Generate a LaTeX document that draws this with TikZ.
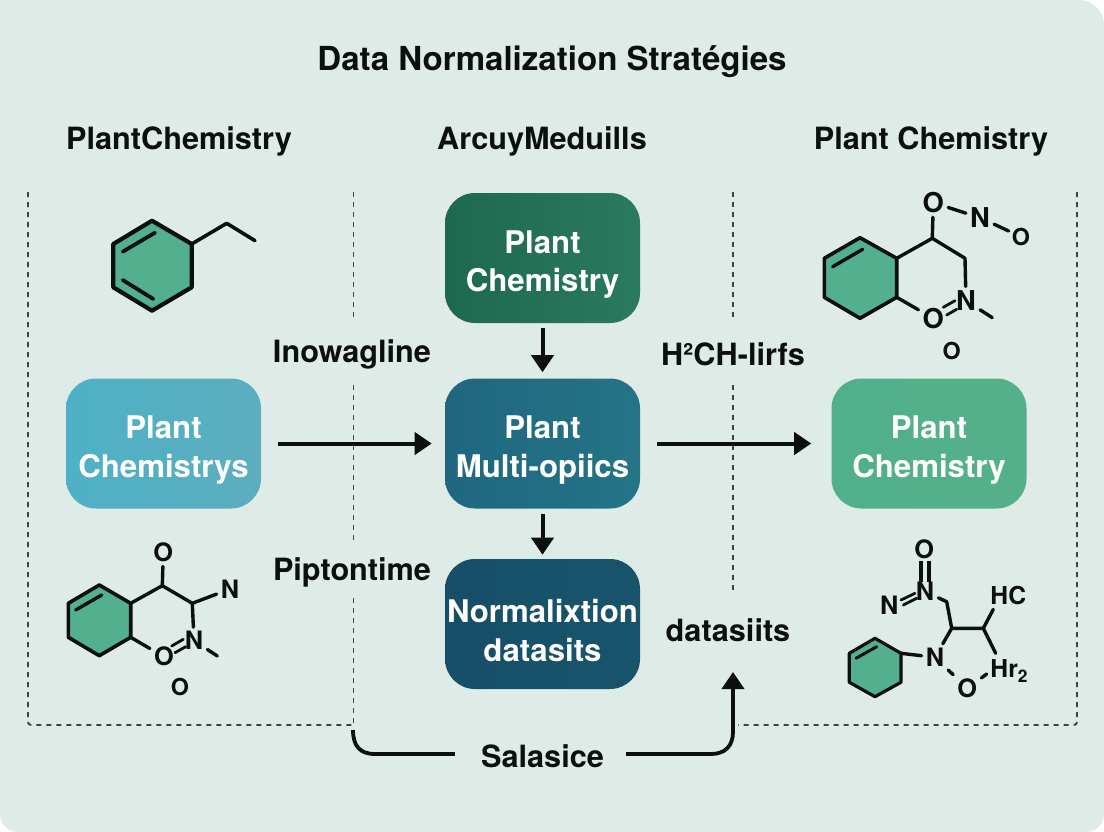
\documentclass[tikz,border=0pt]{standalone}
\usepackage{fontspec}
\setmainfont{TeX Gyre Heros}
\usetikzlibrary{arrows.meta,calc}
\def\px{0.75pt}
\newcommand{\firstln}{\rule{0pt}{27pt}}
\definecolor{bgc}{HTML}{DFEBE6}
\definecolor{hexc}{HTML}{52B08F}
\definecolor{dashc}{HTML}{3E4644}
\definecolor{ink}{HTML}{0C0F0F}
\definecolor{topA}{RGB}{30,104,80}
\definecolor{topB}{RGB}{42,122,96}
\definecolor{midA}{RGB}{31,103,128}
\definecolor{midB}{RGB}{36,116,134}
\definecolor{lowA}{RGB}{23,78,104}
\definecolor{lowB}{RGB}{24,84,108}
\definecolor{lbxA}{RGB}{78,176,198}
\definecolor{lbxB}{RGB}{92,174,190}
\definecolor{rbxA}{RGB}{80,176,140}
\definecolor{rbxB}{RGB}{84,176,138}
\tikzset{
  lab/.style={text=ink,inner sep=0pt,font=\bfseries\fontsize{23pt}{26pt}\selectfont},
  ttl/.style={text=ink,inner sep=0pt,font=\bfseries\fontsize{24.8pt}{28pt}\selectfont},
  boxn/.style={rounded corners=30*\px,minimum width=195*\px,minimum height=130*\px,inner sep=0pt,text=white,align=center,font=\bfseries\fontsize{23.4pt}{29pt}\selectfont},
  flow/.style={draw=ink,line width=4*\px,-{Triangle[width=22*\px,length=17*\px]}},
  guide/.style={draw=dashc,line width=1.9*\px,dash pattern=on 5*\px off 5*\px},
  ring/.style={draw=ink,fill=hexc,line width=3.6*\px,line join=round},
  bond/.style={draw=ink,line width=3.4*\px,line cap=round,line join=round},
  atom/.style={text=ink,inner sep=4*\px,font=\bfseries\fontsize{20.5pt}{22pt}\selectfont},
  atommd/.style={text=ink,inner sep=4*\px,font=\bfseries\fontsize{19pt}{22pt}\selectfont},
  atomsm/.style={text=ink,inner sep=3*\px,font=\bfseries\fontsize{17.5pt}{19pt}\selectfont},
}
\begin{document}
\begin{tikzpicture}[x=0.75pt,y=-0.75pt]
\useasboundingbox (0,0) rectangle (1104,832);
\fill[white] (0,0) rectangle (1104,832);
\fill[bgc] (0,0) -- (1079,0) arc[start angle=90,end angle=0,radius=25*\px] -- (1104,814) arc[start angle=0,end angle=-90,radius=18*\px] -- (18,832) arc[start angle=270,end angle=180,radius=18*\px] -- cycle;

% titles
\node[ttl] (title) at (552,62) {Data Normalization Stratégies};
\node[lab] (h1) at (179,141) {PlantChemistry};
\node[lab] (h2) at (542,141) {ArcuyMeduills};
\node[lab] (h3) at (931,141) {Plant Chemistry};

% dashed guides
\coordinate (gLt) at (28,192); \coordinate (gLb) at (28,725); \coordinate (gMb) at (353,725);
\draw[guide,rounded corners=3*\px] (gLt) -- (gLb) -- (gMb);
\coordinate (gRt) at (1077,192); \coordinate (gRb) at (1077,725); \coordinate (gBb) at (738,725);
\draw[guide,rounded corners=3*\px] (gRt) -- (gRb) -- (gBb);
\coordinate (a1) at (353.5,192); \coordinate (a2) at (353.5,318);
\coordinate (a3) at (353.5,385); \coordinate (a4) at (353.5,542);
\coordinate (a5) at (353.5,598); \coordinate (a6) at (353.5,725);
\draw[guide] (a1) -- (a2); \draw[guide] (a3) -- (a4); \draw[guide] (a5) -- (a6);
\coordinate (b1) at (733,192); \coordinate (b2) at (733,318);
\coordinate (b3) at (733,385); \coordinate (b4) at (733,593);
\draw[guide] (b1) -- (b2); \draw[guide] (b3) -- (b4);

% boxes
\node[boxn,left color=topA,right color=topB] (top) at (542.5,258) {\firstln Plant\\Chemistry};
\node[boxn,left color=midA,right color=midB] (mid) at (542.5,443.5) {\firstln Plant\\Multi-opiics};
\node[boxn,left color=lowA,right color=lowB] (low) at (542.5,624) {\firstln Normalixtion\\datasits};
\node[boxn,left color=lbxA,right color=lbxB] (lbox) at (163.5,443.5) {\firstln Plant\\Chemistrys};
\node[boxn,left color=rbxA,right color=rbxB] (rbox) at (929,443.5) {\firstln Plant\\Chemistry};

% side labels
\node[lab] (inow) at (352,354) {Inowagline};
\node[lab] (pipt) at (352,572) {Piptontime};
\node[lab] (hch) at (733,354) {H²CH-lirfs};
\node[lab] (dsi) at (728,630) {datasiits};
\node[lab] (sal) at (542.5,756) {Salasice};

% flow arrows
\draw[flow,shorten <=5*\px,shorten >=6*\px] (top) -- (mid);
\draw[flow,shorten <=5*\px,shorten >=4*\px] (mid) -- (low);
\draw[flow,shorten <=17*\px,shorten >=13*\px] (lbox) -- (mid);
\draw[flow,shorten <=17*\px,shorten >=20*\px] (mid) -- (rbox);
\coordinate (sL) at (353,730);
\coordinate (sR) at (733,672);
\draw[bond,line cap=butt,line width=3.8*\px,shorten >=26*\px] (sL) .. controls (353,746) and (360,754) .. (375,754) -- (sal.west |- 0,754);
\draw[flow,line width=3.8*\px,shorten <=22*\px] (sal.east |- 0,754) -- (711,754) .. controls (725,754) and (733,746) .. (733,732) -- (sR);

% molecule 1
\coordinate (m1a) at (152,220.7); \coordinate (m1b) at (191.7,244); \coordinate (m1c) at (191.7,287.3);
\coordinate (m1d) at (152,310.7); \coordinate (m1e) at (113.3,287.3); \coordinate (m1f) at (113.3,244);
\draw[ring,line width=4.2*\px] (m1a) -- (m1b) -- (m1c) -- (m1d) -- (m1e) -- (m1f) -- cycle;
\coordinate (m1g) at (122.7,251.7); \coordinate (m1h) at (155,232.7);
\coordinate (m1i) at (122.7,280); \coordinate (m1j) at (153.3,299);
\draw[bond,line width=3.8*\px] (m1g) -- (m1h); \draw[bond,line width=3.8*\px] (m1i) -- (m1j);
\coordinate (m1k) at (226.7,223.3); \coordinate (m1l) at (255,240.7);
\draw[bond,line width=3.6*\px] (m1b) -- (m1k) -- (m1l);

% molecule 2
\coordinate (m2a) at (860,237.7); \coordinate (m2b) at (896.7,258.3); \coordinate (m2c) at (896.7,297.3);
\coordinate (m2d) at (860,318.3); \coordinate (m2e) at (824.3,297.3); \coordinate (m2f) at (824.3,258.3);
\draw[ring] (m2a) -- (m2b) -- (m2c) -- (m2d) -- (m2e) -- (m2f) -- cycle;
\coordinate (m2g) at (832.7,266.7); \coordinate (m2h) at (862.7,249.3);
\draw[bond] (m2g) -- (m2h);
\coordinate (m2k) at (932.3,238.3); \coordinate (m2l) at (965,258.3);
\node[atom] (m2o1) at (933.3,202.7) {O};
\node[atom] (m2n1) at (980,217.7) {N};
\node[atomsm] (m2o2) at (1021,236.7) {O};
\node[atom] (m2n2) at (966,300.7) {N};
\node[atom] (m2o3) at (933.3,318.3) {O};
\node[atomsm] (m2o4) at (951.7,351) {O};
\coordinate (m2m) at (992.3,317.7);
\draw[bond] (m2b) -- (m2k) -- (m2l) -- (m2n2);
\draw[bond] (m2k) -- (m2o1);
\draw[bond] (m2o1) -- (m2n1);
\draw[bond] (m2n1) -- (m2o2);
\draw[bond] (m2n2) -- (m2m);
\draw[bond] (m2c) -- (m2o3);
\coordinate (m2p) at (943.3,307.3); \coordinate (m2q) at (955,300.7);
\coordinate (m2r) at (946.7,315); \coordinate (m2s) at (956.7,309.3);
\draw[bond,line width=2.8*\px] (m2p) -- (m2q); \draw[bond,line width=2.8*\px] (m2r) -- (m2s);

% molecule 3
\coordinate (m3a) at (99.3,585); \coordinate (m3b) at (130.7,603.3); \coordinate (m3c) at (130.7,637.3);
\coordinate (m3d) at (99.3,655.7); \coordinate (m3e) at (68.3,637.3); \coordinate (m3f) at (68.3,603.3);
\draw[ring] (m3a) -- (m3b) -- (m3c) -- (m3d) -- (m3e) -- (m3f) -- cycle;
\coordinate (m3g) at (75.7,610); \coordinate (m3h) at (101.7,595);
\draw[bond] (m3g) -- (m3h);
\coordinate (m3k) at (162.3,585.7); \coordinate (m3l) at (192.3,603.3);
\node[atommd] (m3o1) at (163.3,552.7) {O};
\node[atommd] (m3n1) at (230,589) {N};
\node[atommd] (m3n2) at (194,640.7) {N};
\node[atommd] (m3o3) at (164,656.7) {O};
\node[atomsm] (m3o4) at (180,686.7) {O};
\coordinate (m3m) at (217.3,656);
\draw[bond] (m3b) -- (m3k) -- (m3l) -- (m3n2);
\draw[bond] (m3k) -- (m3o1);
\draw[bond] (m3l) -- (m3n1);
\draw[bond] (m3n2) -- (m3m);
\draw[bond] (m3c) -- (m3o3);
\coordinate (m3p) at (171.7,646); \coordinate (m3q) at (183.3,639.3);
\coordinate (m3r) at (175,652.7); \coordinate (m3s) at (185.7,646.7);
\draw[bond,line width=2.8*\px] (m3p) -- (m3q); \draw[bond,line width=2.8*\px] (m3r) -- (m3s);

% molecule 4
\coordinate (m4a) at (875,638.3); \coordinate (m4b) at (901,653.3); \coordinate (m4c) at (901,682.3);
\coordinate (m4d) at (875,696.7); \coordinate (m4e) at (849.3,682.3); \coordinate (m4f) at (849.3,653.3);
\draw[ring,line width=3.2*\px] (m4a) -- (m4b) -- (m4c) -- (m4d) -- (m4e) -- (m4f) -- cycle;
\coordinate (m4g) at (856,658.3); \coordinate (m4h) at (876.7,646.7);
\draw[bond,line width=3*\px] (m4g) -- (m4h);
\node[atommd] (m4n) at (935,657.3) {N};
\node[atommd] (m4o) at (967.3,688.3) {O};
\node[atommd] (m4ot) at (924.3,549) {O};
\node[atommd] (m4nt) at (925,591.7) {N};
\node[atommd] (m4nl) at (889.3,605) {N};
\node[atommd,font=\bfseries\fontsize{18.5pt}{22pt}\selectfont,inner sep=0pt] (m4hc) at (1008.3,596) {HC};
\node[atommd,font=\bfseries\fontsize{18.5pt}{22pt}\selectfont,inner sep=0pt] (m4hr) at (1009,671) {Hr\raisebox{-3.75pt}{\fontsize{13pt}{14pt}\selectfont 2}};
\coordinate (m4j) at (951.7,628.3); \coordinate (m4k) at (983.3,628.3);
\coordinate (m4l) at (946.7,601.7); \coordinate (m4u) at (993.3,609.3); \coordinate (m4v) at (995.7,653.3);
\coordinate (m4w) at (986.7,674);
\draw[bond] (m4b) -- (m4n);
\draw[bond] (m4n) -- (m4j) -- (m4k) -- (m4u);
\draw[bond] (m4k) -- (m4v);
\draw[bond] (m4n) -- (m4o);
\draw[bond] (m4o) -- (m4w);
\draw[bond] (m4j) -- (m4l) -- (m4nt);
\coordinate (m4p) at (921,560.7); \coordinate (m4q) at (921,581.7);
\coordinate (m4r) at (929,560.7); \coordinate (m4s) at (929,581.7);
\draw[bond,line cap=butt] (m4p) -- (m4q); \draw[bond,line cap=butt] (m4r) -- (m4s);
\coordinate (m4t) at (901,600); \coordinate (m4x) at (915,593.3);
\coordinate (m4y) at (903.3,605); \coordinate (m4z) at (916.7,598.3);
\draw[bond,line width=2.8*\px] (m4t) -- (m4x); \draw[bond,line width=2.8*\px] (m4y) -- (m4z);
\end{tikzpicture}
\end{document}
